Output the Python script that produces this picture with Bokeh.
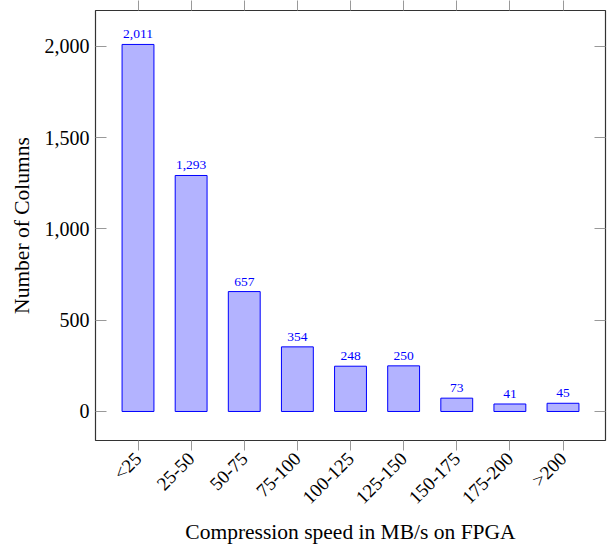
from bokeh.plotting import figure
from bokeh.models import (ColumnDataSource, LinearAxis, FixedTicker, Range1d,
                          NumeralTickFormatter, CustomJSTickFormatter)
from bokeh.embed import file_html
from bokeh.resources import INLINE
import math

# Speed buckets (MB/s on FPGA) and number of columns in each
categories = ["<25", "25-50", "50-75", "75-100", "100-125", "125-150",
              "150-175", "175-200", ">200"]
counts = [2011, 1293, 657, 354, 248, 250, 73, 41, 45]
y_ticks = [0, 500, 1000, 1500, 2000]

FONT = "Liberation Serif"
xs = list(range(len(categories)))

src = ColumnDataSource(dict(
    x=xs,
    top=counts,
    label=[f"{c:,}" for c in counts],
))

p = figure(width=607, height=548, output_backend="svg", toolbar_location=None,
           x_range=Range1d(-0.8, len(categories) - 1 + 0.8),
           y_range=Range1d(-159, 2197),
           min_border_left=95, min_border_right=2, min_border_top=10,
           min_border_bottom=108)

p.vbar(x="x", top="top", width=0.6, bottom=0, source=src,
       fill_color="#b3b3ff", line_color="#0000ff", line_width=1)
p.text(x="x", y="top", text="label", source=src, text_align="center",
       text_baseline="bottom", y_offset=-6, text_color="#0000ff",
       text_font_size="13.5px", text_font=FONT)

p.grid.visible = False
p.outline_line_color = "#333333"
p.outline_line_width = 1.2

# bottom axis: category labels rotated 45 degrees
xa = p.xaxis[0]
xa.ticker = FixedTicker(ticks=xs)
xa.formatter = CustomJSTickFormatter(args=dict(labels=categories),
                                     code="return labels[Math.round(tick)];")
xa.major_label_orientation = math.pi / 4
xa.major_tick_in = 0
xa.major_tick_out = 10
xa.minor_tick_line_color = None
xa.axis_line_color = None
xa.major_tick_line_color = "#999999"
xa.major_label_text_font = FONT
xa.major_label_text_font_size = "19px"
xa.major_label_text_color = "black"
xa.axis_label = "Compression speed in MB/s on FPGA"
xa.axis_label_text_font = FONT
xa.axis_label_text_font_size = "21.5px"
xa.axis_label_text_font_style = "normal"
xa.axis_label_text_color = "black"
xa.axis_label_standoff = 2

# left axis: counts with thousands separator
ya = p.yaxis[0]
ya.ticker = FixedTicker(ticks=y_ticks)
ya.formatter = NumeralTickFormatter(format="0,0")
ya.major_tick_in = 11
ya.major_tick_out = 0
ya.minor_tick_line_color = None
ya.axis_line_color = None
ya.major_tick_line_color = "#999999"
ya.major_label_text_font = FONT
ya.major_label_text_font_size = "20px"
ya.major_label_text_color = "black"
ya.major_label_standoff = 6
ya.axis_label = "Number of Columns"
ya.axis_label_text_font = FONT
ya.axis_label_text_font_size = "21.5px"
ya.axis_label_text_font_style = "normal"
ya.axis_label_text_color = "black"
ya.axis_label_standoff = 8

# mirrored ticks on the right and top, without labels
blank = CustomJSTickFormatter(code="return '';")
ra = LinearAxis(ticker=FixedTicker(ticks=y_ticks), formatter=blank,
                major_tick_in=11, major_tick_out=0,
                minor_tick_line_color=None, axis_line_color=None,
                major_tick_line_color="#999999", major_label_standoff=0)
p.add_layout(ra, "right")
ta = LinearAxis(ticker=FixedTicker(ticks=xs), formatter=blank,
                major_tick_in=0, major_tick_out=10,
                minor_tick_line_color=None, axis_line_color=None,
                major_tick_line_color="#999999", major_label_standoff=0)
p.add_layout(ta, "above")

open("out.html", "w").write(file_html(p, INLINE))
